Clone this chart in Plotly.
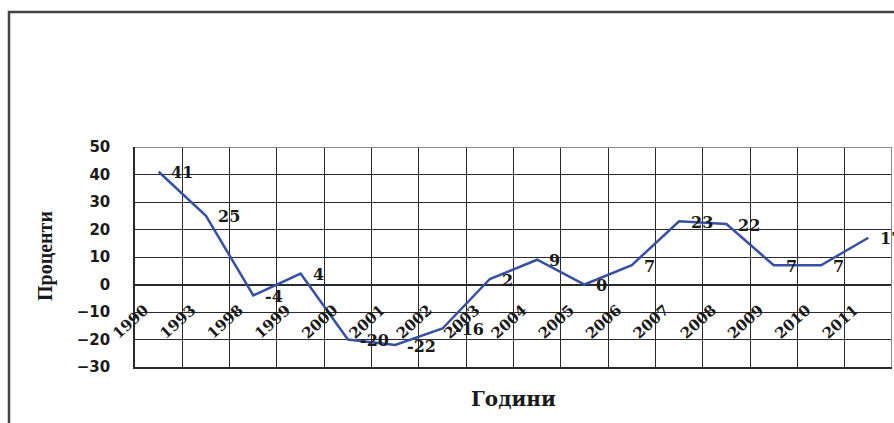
import plotly.graph_objects as go

years = ["1990", "1993", "1998", "1999", "2000", "2001", "2002", "2003",
         "2004", "2005", "2006", "2007", "2008", "2009", "2010", "2011"]
values = [41, 25, -4, 4, -20, -22, -16, 2, 9, 0, 7, 23, 22, 7, 7, 17]
y_ticks = [50, 40, 30, 20, 10, 0, -10, -20, -30]

n = len(values)
xpos = [i + 0.5 for i in range(n)]

fig = go.Figure()
fig.add_trace(go.Scatter(
    x=xpos, y=values, mode="lines",
    line=dict(color="#3550A5", width=2.5),
    showlegend=False, cliponaxis=False,
))
# invisible trace to activate the label axis
fig.add_trace(go.Scatter(x=[0, n], y=[0, 0], xaxis="x2", mode="none",
                         showlegend=False, hoverinfo="skip"))

serif_bold = dict(family="DejaVu Serif", size=16, color="#1a1a1a", weight="bold")
for x, v in zip(xpos, values):
    fig.add_annotation(x=x, y=v, text=str(v), showarrow=False,
                       xanchor="left", yanchor="middle", xshift=10, yshift=-1,
                       font=serif_bold)

fig.update_layout(
    width=894, height=423,
    margin=dict(l=135, r=2, t=147, b=56),
    paper_bgcolor="white", plot_bgcolor="white",
    xaxis=dict(range=[0, n], tickvals=list(range(n + 1)), showticklabels=False,
               showgrid=True, gridcolor="#2a2a2a", gridwidth=1.3,
               zeroline=False, showline=True, linecolor="#2a2a2a", linewidth=1.5,
               ticks=""),
    xaxis2=dict(range=[0, n], overlaying="x", anchor="free", position=0.375,
                side="bottom", tickvals=[i + 0.2 for i in range(n)],
                ticktext=years, tickangle=-42, showgrid=False, zeroline=False,
                showline=False, ticks="outside", ticklen=10,
                tickcolor="rgba(0,0,0,0)",
                tickfont=dict(family="DejaVu Serif", size=15, color="#1a1a1a",
                              weight="bold")),
    yaxis=dict(range=[-30, 50], tickvals=y_ticks, showgrid=True,
               gridcolor="#2a2a2a", gridwidth=1.3, zeroline=True,
               zerolinecolor="#2a2a2a", zerolinewidth=1.5,
               showline=True, linecolor="#2a2a2a", linewidth=1.5,
               ticks="outside", ticklen=20, tickcolor="rgba(0,0,0,0)",
               tickfont=dict(family="DejaVu Sans", size=15, color="#1a1a1a",
                             weight="bold")),
)

# gray top and right plot borders
fig.add_shape(type="line", xref="x", yref="y", x0=0, x1=n, y0=50, y1=50,
              line=dict(color="#8a8a8a", width=2), layer="above")
fig.add_shape(type="line", xref="x", yref="y", x0=n, x1=n, y0=-30, y1=50,
              line=dict(color="#8a8a8a", width=2), layer="above")

# outer frame (left and top edges visible)
fx = (9 - 135) / 757
fy = (367 - 12) / 220
fig.add_shape(type="path", xref="paper", yref="paper",
              path=f"M {fx},-0.5 L {fx},{fy} L 1.2,{fy}",
              line=dict(color="#444444", width=2.5))

# axis titles
fig.add_annotation(xref="paper", yref="paper", x=(45 - 135) / 757,
                   y=(367 - 256) / 220, text="Проценти", textangle=-90,
                   showarrow=False, xanchor="center", yanchor="middle",
                   font=dict(family="Liberation Serif", size=20, color="#1a1a1a",
                             weight="bold"))
fig.add_annotation(xref="paper", yref="paper", x=(513 - 135) / 757,
                   y=(367 - 399) / 220, text="Години",
                   showarrow=False, xanchor="center", yanchor="middle",
                   font=dict(family="DejaVu Serif", size=20, color="#1a1a1a",
                             weight="bold"))

fig.write_html("out.html")
